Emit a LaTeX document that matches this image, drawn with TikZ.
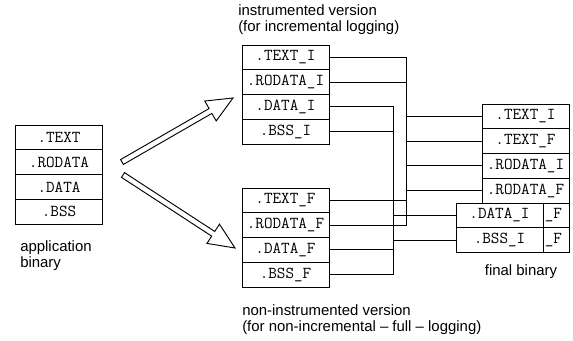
\documentclass[tikz,border=0pt]{standalone}
\usepackage{fontspec}
\setmainfont{Liberation Sans}
\usetikzlibrary{calc}
\pgfdeclarelayer{background}
\pgfsetlayers{background,main}

\begin{document}
\begin{tikzpicture}[
  x=0.75pt,y=-0.75pt,
  sec/.style={draw,fill=white,line width=0.7pt,inner sep=0pt,
              minimum width=65.25pt,minimum height=18.56pt,
              font=\ttfamily\fontsize{12.5}{14}\selectfont},
  hidsec/.style={sec,text width=54.75pt,align=right,inner xsep=5.25pt},
  lbl/.style={align=left,inner sep=0pt,font=\fontsize{11.2}{12}\selectfont},
  wire/.style={line width=0.7pt},
  fat/.style={draw,fill=white,line width=0.7pt,line join=miter}
]
\useasboundingbox (0,0) rectangle (573,341);
% --- application binary ---
\node[sec](aText)   at(59,137.4){.TEXT};
\node[sec](aRodata) at(59,162.1){.RODATA};
\node[sec](aData)   at(59,186.9){.DATA};
\node[sec](aBss)    at(59,211.6){.BSS};
\node[lbl,anchor=west](appLbl) at(20,255.5){application\\binary};
% --- instrumented version ---
\node[lbl,anchor=west](instLbl) at(238,20){instrumented version\\(for incremental logging)};
\node[sec](iText)   at(285.5,57.4){.TEXT\_I};
\node[sec](iRodata) at(285.5,82.1){.RODATA\_I};
\node[sec](iData)   at(285.5,106.9){.DATA\_I};
\node[sec](iBss)    at(285.5,131.6){.BSS\_I};
% --- non-instrumented version ---
\node[sec](nText)   at(285.5,200.4){.TEXT\_F};
\node[sec](nRodata) at(285.5,225.1){.RODATA\_F};
\node[sec](nData)   at(285.5,249.9){.DATA\_F};
\node[sec](nBss)    at(285.5,274.6){.BSS\_F};
\node[lbl,anchor=west](nonLbl) at(242,319.5){non-instrumented version\\(for non-incremental – full – logging)};
% --- final binary ---
\node[sec](finTextI)   at(525.5,116.4){.TEXT\_I};
\node[sec](finTextF)   at(525.5,141.1){.TEXT\_F};
\node[sec](finRodataI) at(525.5,165.9){.RODATA\_I};
\node[sec](finRodataF) at(525.5,190.6){.RODATA\_F};
% data/bss of the full version sit behind the instrumented ones
\node[hidsec](finDataF) at(525.5,215.4){\_F};
\node[hidsec](finBssF)  at(525.5,240.1){\_F};
\node[sec](finDataI) at(499.5,215.4){.DATA\_I};
\node[sec](finBssI)  at(499.5,240.1){.BSS\_I};
\node[lbl](finLbl) at(521,272){final binary};
% --- wiring into the final binary ---
\coordinate (busA) at(406,0);
\coordinate (busB) at(393,0);
\begin{pgfonlayer}{background}
\foreach \s/\t/\b in {iText/finTextI/busA,iRodata/finRodataI/busA,
                      nText/finTextF/busA,nRodata/finRodataF/busA,
                      iData/finDataI/busB,iBss/finBssI/busB,
                      nData/finDataF/busB,nBss/finBssF/busB}
  \draw[wire](\s.east) -| (\b |- \t.west) -- (\t.west);
\end{pgfonlayer}
% --- hollow arrows ---
\coordinate (tailI) at(122,162);
\coordinate (tipI)  at(233,98);
\coordinate (tailN) at(123,175);
\coordinate (tipN)  at(235,248);
\foreach \s/\t in {tailI/tipI,tailN/tipN}{
  \coordinate (hb) at ($(\t)!19.5pt!(\s)$);
  \draw[fat] ($(\s)!2.1pt!90:(\t)$) -- ($(hb)!2.1pt!-90:(\s)$)
    -- ($(hb)!8.6pt!-90:(\s)$) -- (\t) -- ($(hb)!8.6pt!90:(\s)$)
    -- ($(hb)!2.1pt!90:(\s)$) -- ($(\s)!2.1pt!-90:(\t)$) -- cycle;
}
\end{tikzpicture}
\end{document}
